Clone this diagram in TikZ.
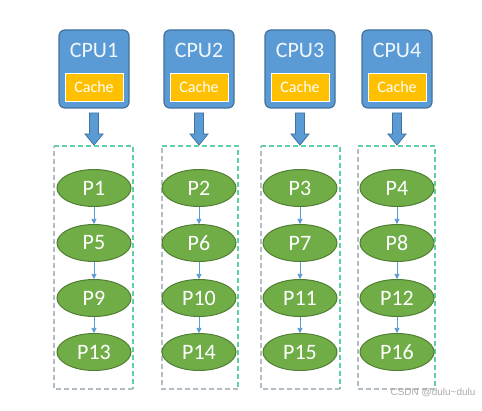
\documentclass[tikz,border=0pt]{standalone}
\usepackage{fontspec}
\setmainfont{Carlito}
\newfontfamily\wmfont{Liberation Sans}
\usetikzlibrary{arrows.meta,shapes.geometric}
\definecolor{cpublue}{HTML}{5B9BD5}
\definecolor{cpuedge}{HTML}{41719C}
\definecolor{cacheor}{HTML}{FFC000}
\definecolor{pgreen}{HTML}{70AD47}
\definecolor{pedge}{HTML}{507E32}
\definecolor{dashgreen}{HTML}{5FD0A4}
\definecolor{dashgray}{HTML}{B4BCC4}
\tikzset{
  cpubox/.style={draw=cpuedge, line width=1.2pt, fill=cpublue, rounded corners=6pt, minimum width=70pt, minimum height=78pt},
  cachebox/.style={draw=white, line width=0.8pt, fill=cacheor, minimum width=58pt, minimum height=28pt, text=white, font=\fontsize{16}{16}\selectfont},
  cputext/.style={text=white!92!cpublue, font=\fontsize{22}{22}\selectfont},
  proc/.style={ellipse, draw=pedge, line width=1pt, fill=pgreen, minimum width=74pt, minimum height=37pt, inner sep=0pt, text=white, font=\fontsize{22}{22}\selectfont},
  bigarrow/.style={draw=cpuedge, fill=cpublue, line width=0.8pt},
  link/.style={draw=cpublue, line width=0.6pt, -{Triangle[width=5pt,length=5pt]}},
  grpdash/.style={dash pattern=on 5pt off 3pt, line width=1.2pt},
}
\begin{document}
\begin{tikzpicture}[x=1pt,y=-1pt]
\useasboundingbox (0,0) rectangle (482,411);
\fill[white] (0,0) rectangle (482,411);
\foreach \i/\cx/\bl/\br/\pa/\pb/\pc/\pd in {1/94/54/133/1/5/9/13, 2/199/162/238/2/6/10/14, 3/300/261/340/3/7/11/15, 4/397/358/435/4/8/12/16}{
  \node[cpubox] (cpu\i) at (\cx,69) {};
  \node[cputext] (cpul\i) at (\cx,50) {CPU\i};
  \node[cachebox] (cache\i) at (\cx,87) {Cache};
  \coordinate (ar\i) at (\cx,113);
  \fill[bigarrow] (\cx-4.5,113) -- (\cx+4.5,113) -- (\cx+4.5,134) -- (\cx+9,134) -- (\cx,145) -- (\cx-9,134) -- (\cx-4.5,134) -- cycle;
  \coordinate (g\i a) at (\bl,146);
  \coordinate (g\i b) at (\br,389);
  \draw[dashgreen, grpdash] (\bl,146) -- (\br,146) -- (\br,389);
  \draw[dashgray, grpdash] (\br,389) -- (\bl,389) -- (\bl,146);
  \node[proc] (p\pa) at (\cx,188) {P\pa};
  \node[proc] (p\pb) at (\cx,243) {P\pb};
  \node[proc] (p\pc) at (\cx,298) {P\pc};
  \node[proc] (p\pd) at (\cx,352) {P\pd};
  \draw[link] (p\pa) -- (p\pb);
  \draw[link] (p\pb) -- (p\pc);
  \draw[link] (p\pc) -- (p\pd);
}
\node[text=gray!65, font=\fontsize{10}{10}\selectfont\wmfont, anchor=east] (wm) at (479,393) {CSDN @dulu\textasciitilde dulu};
\end{tikzpicture}
\end{document}
